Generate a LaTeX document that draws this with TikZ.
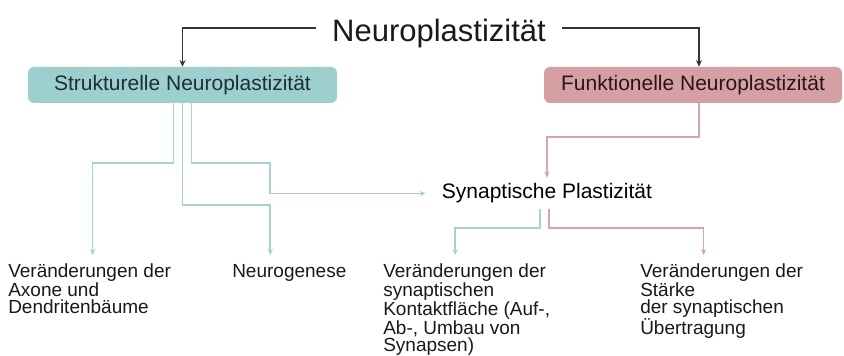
\documentclass[tikz,border=0pt]{standalone}
\usepackage{fontspec}
\setmainfont{Liberation Sans}
\usetikzlibrary{arrows.meta}

\definecolor{tealfill}{RGB}{157,207,207}
\definecolor{pinkfill}{RGB}{212,160,163}
\definecolor{tealline}{RGB}{168,209,211}
\definecolor{pinkline}{RGB}{214,164,171}
\definecolor{tealtext}{RGB}{28,48,48}
\definecolor{pinktext}{RGB}{45,20,24}

\tikzset{
  titlenode/.style={font=\fontsize{23.25}{27}\selectfont, text=black!90,
    inner xsep=12pt, anchor=base},
  mainbox/.style={rounded corners=4.5pt, minimum height=27pt,
    font=\fontsize{15.75}{18}\selectfont},
  strukbox/.style={mainbox, fill=tealfill, text=tealtext, minimum width=231.75pt},
  funkbox/.style={mainbox, fill=pinkfill, text=pinktext, minimum width=223.5pt},
  synpnode/.style={font=\fontsize{15.75}{18}\selectfont, inner xsep=12pt,
    inner ysep=4.3pt},
  leaf/.style={align=left, anchor=north west, inner xsep=0pt, inner ysep=6.5pt,
    font=\fontsize{14.25}{12.8}\selectfont, text=black!90},
  darkarrow/.style={draw=black!80, line width=1.1pt,
    -{Stealth[length=5pt,width=4.5pt]}},
  tealarrow/.style={draw=tealline, line width=1.3pt,
    -{Stealth[length=4.5pt,width=4pt]}},
  pinkarrow/.style={draw=pinkline, line width=1.3pt,
    -{Stealth[length=4.5pt,width=4pt]}},
}

\begin{document}
\begin{tikzpicture}[>=Stealth, x=0.75pt, y=-0.75pt]
\useasboundingbox (0,0) rectangle (844,356);

% ============================================================
% Top level
% ============================================================
\node[titlenode] (title) at (439,42) {Neuroplastizität};

\node[strukbox] (struk) at (182.5,85) {Strukturelle Neuroplastizität};
\node[funkbox] (funk) at (693,85) {Funktionelle Neuroplastizität};

\draw[darkarrow] ([yshift=4.5pt]title.west) -| (struk.north);
\draw[darkarrow] ([yshift=4.5pt]title.east) -| ([xshift=4.5pt]funk.north);

% ============================================================
% Middle and bottom nodes
% ============================================================
\node[synpnode] (synp) at (547,193.5) {Synaptische Plastizität};

\node[leaf] (axone) at (8,255) {Veränderungen der\\Axone und\\Dendritenbäume};
\node[leaf] (neuro) at (232,255) {Neurogenese};
\node[leaf] (contact) at (383,255) {Veränderungen der\\synaptischen\\Kontaktfläche (Auf-,\\Ab-, Umbau von\\Synapsen)};
\node[leaf] (staerke) at (640,255) {Veränderungen der\\Stärke\\der synaptischen\\Übertragung};

% ============================================================
% Connectors from Strukturelle Neuroplastizität (teal)
% ============================================================
\draw[tealarrow] ([xshift=-6.75pt]struk.south) -- ++(0,60)
  -| ([xshift=2.25pt]axone.north);
\draw[tealarrow] (struk.south) -- ++(0,102)
  -| ([xshift=-14.25pt]neuro.north);
\draw[tealarrow] ([xshift=6.75pt]struk.south) |- ++(78.5,60)
  |- (synp.west);

% ============================================================
% Connectors from Funktionelle Neuroplastizität (pink)
% ============================================================
\draw[pinkarrow] ([xshift=4.5pt]funk.south) -- ++(0,34) -| (synp.north);

% ============================================================
% Connectors from Synaptische Plastizität
% ============================================================
\draw[tealarrow] ([xshift=-5.25pt]synp.south) -- ++(0,19)
  -| ([xshift=-8.6pt]contact.north);
\draw[pinkarrow] ([xshift=1.5pt]synp.south) -- ++(0,19)
  -| ([xshift=-13.5pt]staerke.north);

\end{tikzpicture}
\end{document}
